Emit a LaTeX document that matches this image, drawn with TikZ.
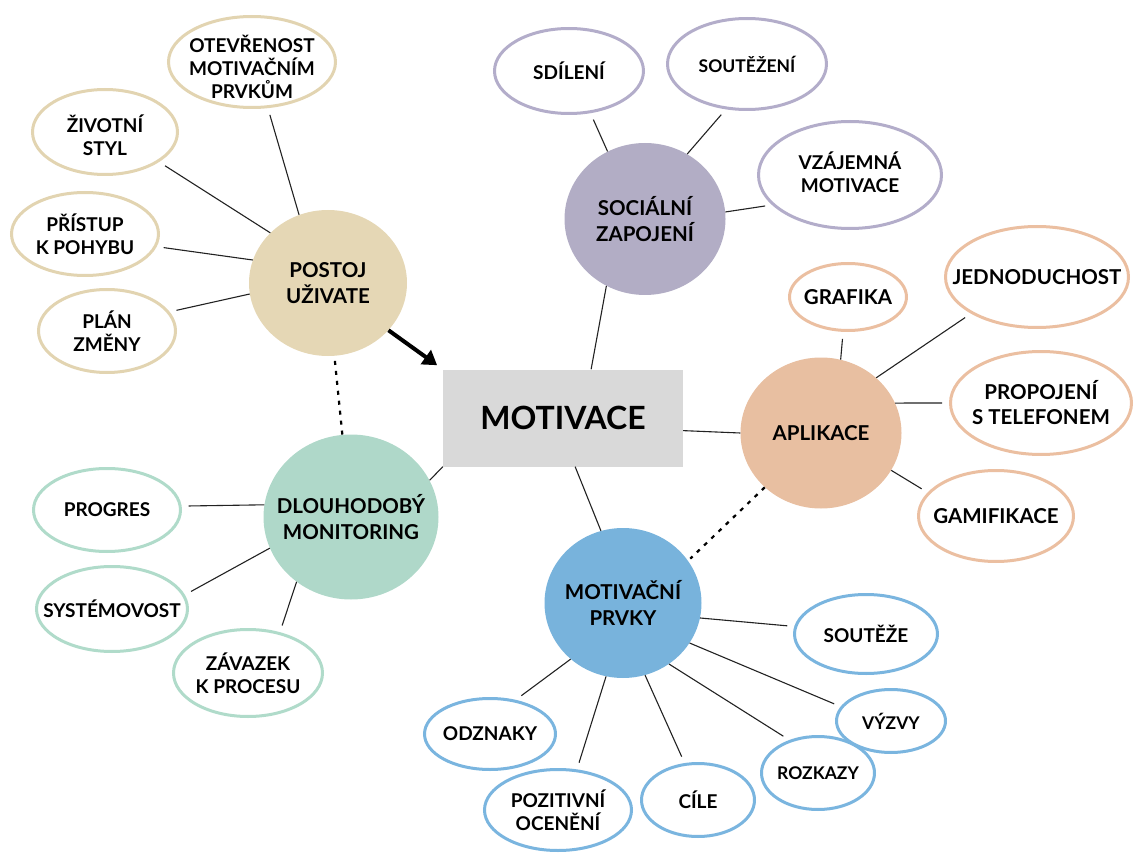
\documentclass[tikz,border=0pt]{standalone}
\usepackage{fontspec}
\setmainfont{Lato}
\usetikzlibrary{arrows.meta,shapes.geometric}
\definecolor{beigeF}{HTML}{E5D7B5}
\definecolor{beigeB}{HTML}{E2D4B1}
\definecolor{purpF}{HTML}{B2ADC5}
\definecolor{purpB}{HTML}{B3ADCA}
\definecolor{peachF}{HTML}{E8BFA1}
\definecolor{peachB}{HTML}{EBBFA1}
\definecolor{mintF}{HTML}{AFD8C9}
\definecolor{mintB}{HTML}{B0DBCA}
\definecolor{blueF}{HTML}{78B3DC}
\definecolor{blueB}{HTML}{7AB5DF}
\definecolor{boxF}{HTML}{D9D9D9}
\definecolor{lineC}{HTML}{222222}
\tikzset{
  hub/.style 2 args={ellipse, inner sep=0pt, minimum width=#1, minimum height=#2},
  hubt/.style={align=center, font=\bfseries\fontsize{20.5}{26}\selectfont},
  centerbox/.style={rectangle, fill=boxF, inner sep=0pt, minimum width=240pt,
    minimum height=97pt, font=\bfseries\fontsize{32}{34}\selectfont},
  leaf/.style 2 args={ellipse, draw, line width=3pt, fill=white, inner sep=0pt,
    minimum width=#1, minimum height=#2},
  lt/.style={align=center, font=\bfseries\fontsize{19}{23}\selectfont},
  lts/.style={align=center, font=\bfseries\fontsize{17.5}{22}\selectfont},
  ltb/.style={align=center, font=\bfseries\fontsize{20.5}{25}\selectfont},
  conn/.style={draw=lineC, line width=1.1pt, shorten >=7pt},
  dotconn/.style={draw=black, line width=2.2pt, dash pattern=on 4pt off 6pt},
  bigarrow/.style={draw=black, line width=4pt, -{Triangle[length=14pt,width=17pt]}, shorten >=7pt}
}
\begin{document}
\begin{tikzpicture}[x=1pt,y=-1pt]
\useasboundingbox (0,0) rectangle (1136,853);

% central box
\node[centerbox] (mot) at (563,418) {MOTIVACE};

% hubs
\node[hub={158pt}{146pt}, fill=beigeF, label={[hubt]center:{POSTOJ\\UŽIVATE}}] (post) at (328,283) {};
\node[hub={161pt}{152pt}, fill=purpF, label={[hubt]center:{SOCIÁLNÍ\\ZAPOJENÍ}}] (soc) at (645,219) {};
\node[hub={161pt}{151pt}, fill=peachF, label={[hubt]center:APLIKACE}] (apl) at (821,433) {};
\node[hub={175pt}{165pt}, fill=mintF, label={[hubt]center:{DLOUHODOBÝ\\MONITORING}}] (dlo) at (351,517) {};
\node[hub={157pt}{150pt}, fill=blueF, label={[hubt]center:{MOTIVAČNÍ\\PRVKY}}] (mpr) at (623,603) {};

% POSTOJ leaves
\node[leaf={167pt}{91pt}, draw=beigeB, label={[lt, yshift=-5pt]center:{OTEVŘENOST\\MOTIVAČNÍM\\PRVKŮM}}] (otev) at (252,62) {};
\node[leaf={145pt}{85pt}, draw=beigeB, label={[lt, yshift=-3pt]center:{ŽIVOTNÍ\\STYL}}] (zivot) at (105,132) {};
\node[leaf={147pt}{83pt}, draw=beigeB, label={[lt]center:{PŘÍSTUP\\K POHYBU}}] (prist) at (85,234) {};
\node[leaf={137pt}{83pt}, draw=beigeB, label={[lt]center:{PLÁN\\ZMĚNY}}] (plan) at (107,331) {};

% SOCIAL leaves
\node[leaf={149pt}{85pt}, draw=purpB, label={[lt]center:SDÍLENÍ}] (sdil) at (569,71) {};
\node[leaf={159pt}{91pt}, draw=purpB, label={[lts]center:SOUTĚŽENÍ}] (soutez) at (747,64) {};
\node[leaf={183pt}{107pt}, draw=purpB, label={[lt, yshift=3pt]center:{VZÁJEMNÁ\\MOTIVACE}}] (vzaj) at (850,175) {};

% APLIKACE leaves
\node[leaf={117pt}{67pt}, draw=peachB, label={[ltb]center:GRAFIKA}] (graf) at (848,297) {};
\node[leaf={183pt}{101pt}, draw=peachB, label={[ltb]center:JEDNODUCHOST}] (jedn) at (1037,277) {};
\node[leaf={181pt}{103pt}, draw=peachB, label={[ltb]center:{PROPOJENÍ\\S TELEFONEM}}] (prop) at (1041,403) {};
\node[leaf={155pt}{91pt}, draw=peachB, label={[ltb]center:GAMIFIKACE}] (gami) at (996,516) {};

% DLOUHODOBY leaves
\node[leaf={147pt}{83pt}, draw=mintB, label={[lt]center:PROGRES}] (progres) at (107,510) {};
\node[leaf={151pt}{85pt}, draw=mintB, label={[lt]center:SYSTÉMOVOST}] (syst) at (112,609) {};
\node[leaf={149pt}{87pt}, draw=mintB, label={[lt]center:{ZÁVAZEK\\K PROCESU}}] (zavaz) at (248,673) {};

% MOTIVACNI PRVKY leaves
\node[leaf={143pt}{79pt}, draw=blueB, label={[lt]center:SOUTĚŽE}] (soutez2) at (866,634) {};
\node[leaf={109pt}{63pt}, draw=blueB, label={[lts]center:VÝZVY}] (vyzvy) at (891,721) {};
\node[leaf={113pt}{73pt}, draw=blueB, label={[lts]center:ROZKAZY}] (rozk) at (818,773) {};
\node[leaf={113pt}{73pt}, draw=blueB, label={[lt]center:CÍLE}] (cile) at (698,800) {};
\node[leaf={147pt}{81pt}, draw=blueB, label={[lt]center:{POZITIVNÍ\\OCENĚNÍ}}] (pozit) at (558,810) {};
\node[leaf={131pt}{71pt}, draw=blueB, label={[lt]center:ODZNAKY}] (odzn) at (490,734) {};

% connectors: POSTOJ
\draw[conn] (post.113) -- (otev.289);
\draw[conn] (post.139) -- (zivot.331);
\draw[conn] (post.163) -- (prist.350);
\draw[conn] (post.188) -- (plan.17);
% SOCIAL
\draw[conn] (soc.119) -- (sdil.297);
\draw[conn] (soc.57) -- (soutez.245);
\draw[conn] (soc.5) -- (vzaj.201);
\draw[conn, shorten >=0pt] (soc.240) -- (mot.60.6);
% APLIKACE
\draw[conn] (apl.75) -- (graf.262);
\draw[conn] (apl.45) -- (jedn.209);
\draw[conn] (apl.22) -- (prop.180);
\draw[conn] (apl.332) -- (gami.161);
\draw[conn, shorten >=0pt] (apl.180) -- (mot.-6.7);
% DLOUHODOBY
\draw[conn] (dlo.172) -- (progres.3);
\draw[conn] (dlo.201) -- (syst.11);
\draw[conn] (dlo.230) -- (zavaz.52);
\draw[conn, shorten >=0pt] (dlo.25) -- (mot.south west);
% MOTIVACNI PRVKY
\draw[conn, shorten >=0pt] (mpr.107) -- (mot.284);
\draw[conn] (mpr.349) -- (soutez2.174);
\draw[conn] (mpr.329) -- (vyzvy.164);
\draw[conn] (mpr.307) -- (rozk.131);
\draw[conn] (mpr.287) -- (cile.110);
\draw[conn] (mpr.257) -- (pozit.65);
\draw[conn] (mpr.227) -- (odzn.53);

% dotted links
\draw[dotconn, shorten <=5pt] (post.275) -- (dlo.96);
\draw[dotconn, shorten >=3pt] (apl.224) -- (mpr.33);

% arrow
\draw[bigarrow] (post.322) -- (mot.north west);
\end{tikzpicture}
\end{document}
